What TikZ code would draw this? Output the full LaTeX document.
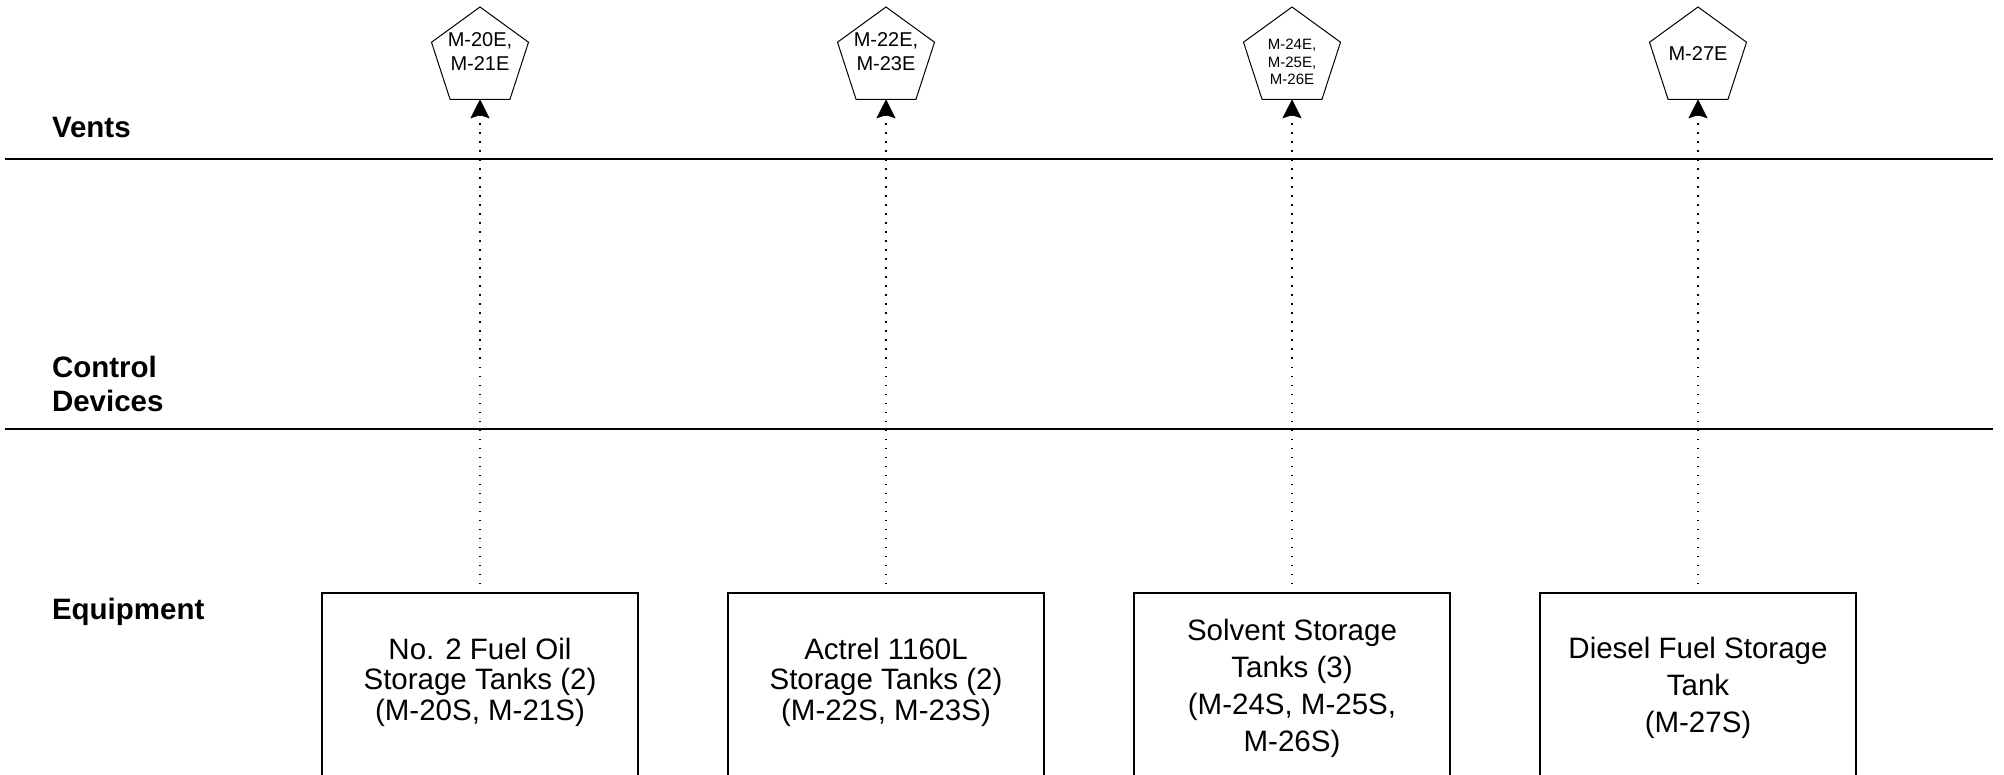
\documentclass[tikz,border=0pt]{standalone}
\usepackage{fontspec}
\setmainfont{Liberation Sans}
\usetikzlibrary{arrows.meta,shapes.geometric}

\begin{document}
\begin{tikzpicture}[x=1pt,y=-1pt,
  every node/.style={inner sep=0pt, outer sep=0pt},
  lanerule/.style={line width=2.2pt},
  lanelabel/.style={font=\fontsize{29.5}{34}\selectfont\bfseries, anchor=base west},
  vent/.style={draw, line width=1pt, regular polygon, regular polygon sides=5, minimum size=102pt},
  venttext/.style={align=center, font=\fontsize{20}{24}\selectfont},
  tankbox/.style={draw, line width=2pt, minimum width=316pt, minimum height=190pt},
  tanktext/.style={align=center, font=\fontsize{29.5}{37}\selectfont},
  tighttext/.style={align=center, font=\fontsize{29.5}{30.5}\selectfont},
  ventflow/.style={line width=1.5pt, dash pattern=on 1.5pt off 7.5pt,
    -{Stealth[length=19pt,width=19pt,inset=3pt]}}
]
% page frame
\path[fill=white, use as bounding box] (0,0) rectangle (2004,775);
\clip (0,0) rectangle (2004,775);

% swim-lane rules
\draw[lanerule] (5,159) -- (1993,159);
\draw[lanerule] (5,429) -- (1993,429);

% lane titles
\node[lanelabel] (lvents) at (52,138) {Vents};
\node[lanelabel, align=left, anchor=west] (lctrl) at (52,384) {Control\\Devices};
\node[lanelabel] (lequip) at (52,619) {Equipment};

% vents
\node[vent] (v1) at (480,58) {};
\node[vent] (v2) at (886,58) {};
\node[vent] (v3) at (1292,58) {};
\node[vent] (v4) at (1698,58) {};
\node[venttext] (v1t) at (480,52) {M-20E,\\M-21E};
\node[venttext] (v2t) at (886,52) {M-22E,\\M-23E};
\node[venttext, font=\fontsize{15}{17.5}\selectfont] (v3t) at (1292,62) {M-24E,\\M-25E,\\M-26E};
\node[venttext] (v4t) at (1698,54) {M-27E};

% storage tanks (boxes run past the lower page edge)
\node[tankbox] (t1) at (480,688) {};
\node[tankbox] (t2) at (886,688) {};
\node[tankbox] (t3) at (1292,688) {};
\node[tankbox] (t4) at (1698,688) {};
\node[tighttext] (t1t) at (480,682) {No. 2 Fuel Oil\\Storage Tanks (2)\\(M-20S, M-21S)};
\node[tighttext] (t2t) at (886,682) {Actrel 1160L\\Storage Tanks (2)\\(M-22S, M-23S)};
\node[tanktext] (t3t) at (1292,688) {Solvent Storage\\Tanks (3)\\(M-24S, M-25S,\\M-26S)};
\node[tanktext] (t4t) at (1698,688) {Diesel Fuel Storage\\Tank\\(M-27S)};

% emissions from each tank group to its vent
\draw[ventflow] (t1.north) -- (v1.south);
\draw[ventflow] (t2.north) -- (v2.south);
\draw[ventflow] (t3.north) -- (v3.south);
\draw[ventflow] (t4.north) -- (v4.south);
\end{tikzpicture}
\end{document}
